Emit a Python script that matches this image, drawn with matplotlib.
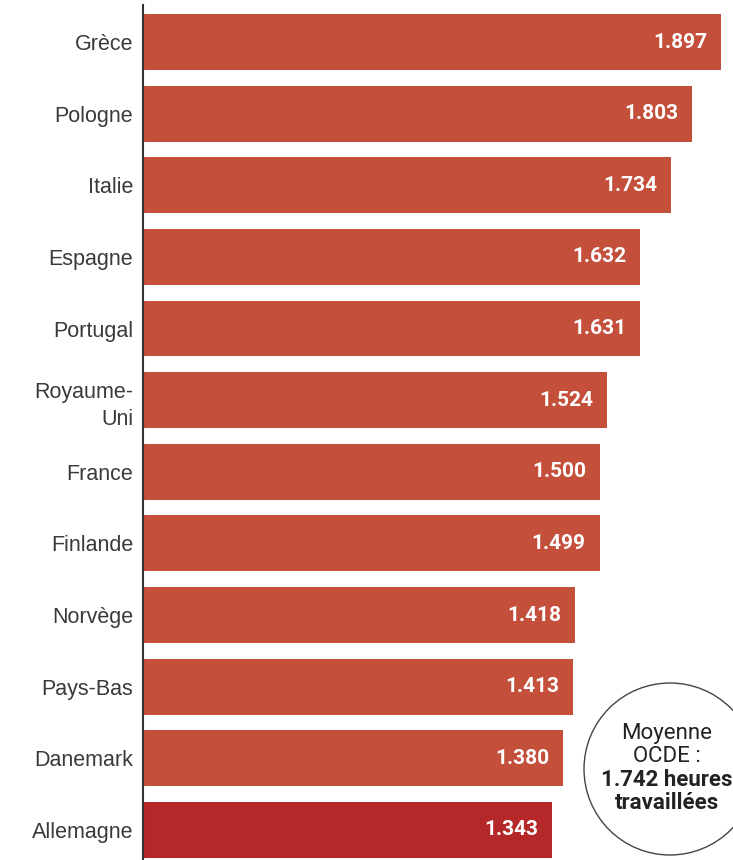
import matplotlib
matplotlib.use("Agg")
import matplotlib.pyplot as plt
from matplotlib.patches import Ellipse

# Heures travaillées par an et par travailleur (OCDE)
pays = ["Grèce", "Pologne", "Italie", "Espagne", "Portugal", "Royaume-\nUni",
        "France", "Finlande", "Norvège", "Pays-Bas", "Danemark", "Allemagne"]
heures = [1897, 1803, 1734, 1632, 1631, 1524, 1500, 1499, 1418, 1413, 1380, 1343]
moyenne_ocde = "1.742"

W, H = 733, 860
fig = plt.figure(figsize=(W / 100, H / 100), dpi=100)
ax = fig.add_axes([143 / W, 0, 1 - 143 / W, 1 - 5 / H])

couleurs = ["#c4503c"] * (len(pays) - 1) + ["#b52829"]
ypos = list(range(len(pays)))
ax.barh(ypos, heures, height=0.78, color=couleurs)

ax.set_xlim(0, 1937)
ax.set_ylim(11.42, -0.517)

for y, v in zip(ypos, heures):
    txt = f"{v:,}".replace(",", ".")
    ax.annotate(txt, (v, y), xytext=(-10, 0), textcoords="offset points",
                ha="right", va="center", color="white", fontsize=15,
                fontweight="bold", family="Roboto")

ax.set_yticks(ypos)
ax.set_yticklabels(pays, fontsize=15.5, color="#3a3a3a", family="Liberation Sans",
                   ha="right", linespacing=1.4)
ax.tick_params(axis="y", length=0, pad=7)
ax.set_xticks([])
for s in ["top", "right", "bottom"]:
    ax.spines[s].set_visible(False)
ax.spines["left"].set_color("#333333")
ax.spines["left"].set_linewidth(1.5)

# Encadré rond "Moyenne OCDE"
cx, cy, r = 670, 769, 86
circle = Ellipse((cx / W, 1 - cy / H), 2 * r / W, 2 * r / H, transform=fig.transFigure,
                 facecolor="white", edgecolor="#444444", lw=1.0, zorder=5)
fig.patches.append(circle)
lignes = [("Moyenne", "normal", 734), ("OCDE :", "normal", 757),
          (f"{moyenne_ocde} heures", "bold", 780), ("travaillées", "bold", 803)]
for t, w, yy in lignes:
    fig.text(667 / W, 1 - yy / H, t, ha="center", va="center", fontsize=16,
             fontweight=w, color="#222222", family="Roboto", zorder=6)

fig.savefig("out.png", dpi=100)
